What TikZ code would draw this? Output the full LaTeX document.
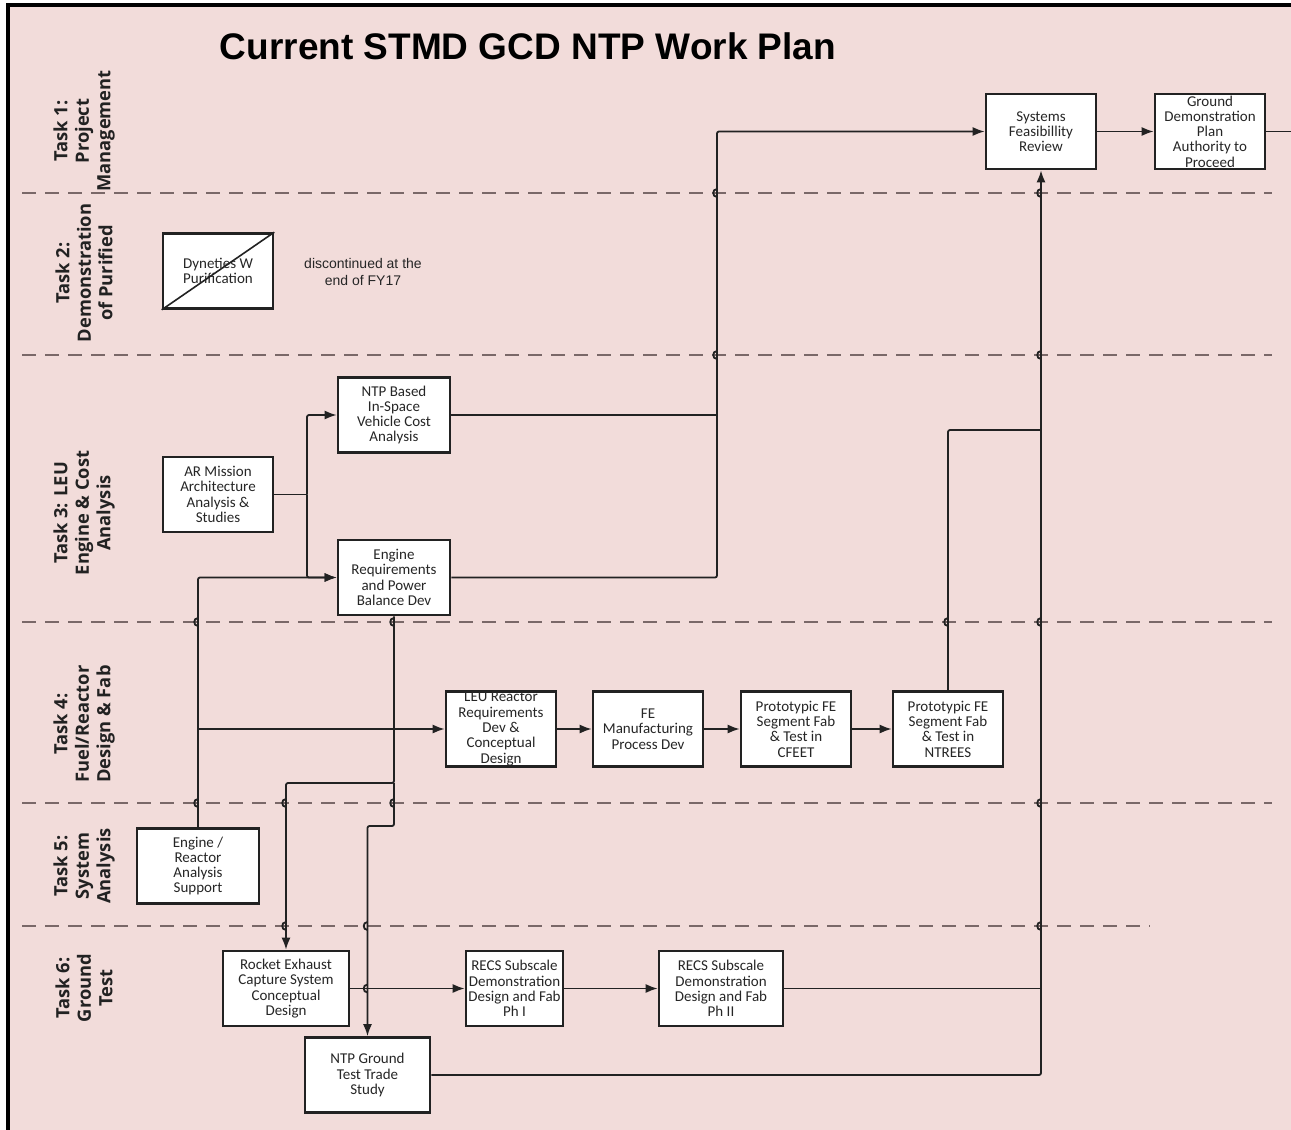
\documentclass[tikz,border=0pt]{standalone}
\usepackage{fontspec}
\setmainfont{Carlito}
\newfontfamily\lanefont{Open Sans}
\newfontfamily\titlefont{Liberation Sans}
\usetikzlibrary{arrows.meta}
\definecolor{bgpink}{HTML}{F2DCDA}
\definecolor{linec}{HTML}{222222}
\definecolor{dashc}{HTML}{7A6868}
\definecolor{txtc}{HTML}{262626}
\newcommand\hopv[2]{\draw[conn] (#1,#2-4) .. controls (#1-5,#2-4) and (#1-5,#2+4) .. (#1,#2+4);}
\begin{document}
\begin{tikzpicture}[x=1pt,y=-1pt,
  box/.style={draw=linec, fill=white, line width=2.6, align=center, inner sep=0pt,
    minimum width=110, minimum height=75, text=txtc, font=\fontsize{15}{15.3}\selectfont},
  lanelbl/.style={rotate=90, align=center, text=linec, font=\lanefont\bfseries\fontsize{18.3}{21.5}\selectfont},
  lanesep/.style={draw=dashc, line width=2, dash pattern=on 14pt off 9pt},
  conn/.style={draw=linec, line width=1.8, rounded corners=2},
  arr/.style={-{Latex[length=12pt,width=9pt]}}]
\useasboundingbox (0,0) rectangle (1291,1130);
\fill[white] (0,0) rectangle (1291,1130);
\fill[bgpink] (7,3) rectangle (1291,1130);
\draw[line width=4, black] (7.5,1130) -- (7.5,4.5) -- (1291,4.5);

% lane separators
\draw[lanesep] (22,193) -- (1272,193);
\draw[lanesep] (22,355) -- (1272,355);
\draw[lanesep] (22,622) -- (1272,622);
\draw[lanesep] (22,803) -- (1272,803);
\draw[lanesep] (22,926) -- (1150,926);

% title
\node[font=\titlefont\bfseries\fontsize{37}{40}\selectfont, text=black] (title) at (528,46) {Current STMD GCD NTP Work Plan};

% lane labels
\node[lanelbl] (L1) at (84,131) {Task 1:\\Project\\Management};
\node[lanelbl] (L2) at (84,273) {Task 2:\\Demonstration\\of Purified};
\node[lanelbl] (L3) at (84,513) {Task 3: LEU\\Engine \& Cost\\Analysis};
\node[lanelbl] (L4) at (84,724) {Task 4:\\Fuel/Reactor\\Design \& Fab};
\node[lanelbl] (L5) at (84,866) {Task 5:\\System\\Analysis};
\node[lanelbl] (L6) at (84,988) {Task 6:\\Ground\\Test};

% boxes
\node[box] (SFR) at (1041,131.5) {Systems\\Feasibillity\\Review};
\node[box] (GDP) at (1210,131.5) {Ground\\Demonstration\\Plan\\Authority to\\Proceed};
\node[box] (DYN) at (218,271) {Dyneties W\\Purification};
\node[box, minimum width=112] (NTPB) at (394,415) {NTP Based\\In-Space\\Vehicle Cost\\Analysis};
\node[box] (AR) at (218,494.5) {AR Mission\\Architecture\\Analysis \&\\Studies};
\node[box, minimum width=112] (ENG) at (394,577.5) {Engine\\Requirements\\and Power\\Balance Dev};
\node[box] (LEU) at (501,729) {LEU Reactor\\Requirements\\Dev \&\\Conceptual\\Design};
\node[box] (FEM) at (648,729) {FE\\Manufacturing\\Process Dev};
\node[box] (CFEET) at (796,729) {Prototypic FE\\Segment Fab\\\& Test in\\CFEET};
\node[box] (NTREES) at (948,729) {Prototypic FE\\Segment Fab\\\& Test in\\NTREES};
\node[box, minimum width=122] (ERA) at (198,866) {Engine /\\Reactor\\Analysis\\Support};
\node[box, minimum width=126] (REC) at (286,988.5) {Rocket Exhaust\\Capture System\\Conceptual\\Design};
\node[box, minimum width=97] (RECS1) at (514.5,988.5) {RECS Subscale\\Demonstration\\Design and Fab\\Ph I};
\node[box, minimum width=124] (RECS2) at (721,988.5) {RECS Subscale\\Demonstration\\Design and Fab\\Ph II};
\node[box, minimum width=125] (NGT) at (367.5,1075) {NTP Ground\\Test Trade\\Study};

\draw[line width=1.6, linec] (DYN.south west) -- (DYN.north east);
\node[font=\titlefont\fontsize{14}{17}\selectfont, align=center, text=txtc] (disc) at (363,272) {discontinued at the\\end of FY17};

% connectors
\coordinate (j1) at (307,494.5);
\draw[conn] (AR.east) -- (j1);
\draw[conn,arr] (j1) |- (NTPB.west);
\draw[conn,arr] (j1) |- (ENG.west);

\coordinate (e2) at (198,729);
\draw[conn,arr] (ERA.north) |- (ENG.west);
\draw[conn,arr] (e2) -- (LEU.west);

\coordinate (d1) at (394,783);
\coordinate (d2) at (394,826);
\draw[conn,arr] (ENG.south) -- (d1) -| (REC.north);
\draw[conn,arr] (d1) -- (d2) -| (NGT.north);

\coordinate (v1) at (717,415);
\draw[conn] (NTPB.east) -- (v1);
\draw[conn,arr] (ENG.east) -- (ENG.east -| v1) -- (v1 |- SFR.west) -- (SFR.west);

\coordinate (edge) at (1291,131.5);
\draw[conn,arr] (SFR) -- (GDP);
\draw[conn] (GDP.east) -- (edge);

\draw[conn,arr] (LEU) -- (FEM);
\draw[conn,arr] (FEM) -- (CFEET);
\draw[conn,arr] (CFEET) -- (NTREES);

\coordinate (n1) at (1041,430);
\draw[conn] (NTREES.north) |- (n1);

\draw[conn,arr] (REC) -- (RECS1);
\draw[conn,arr] (RECS1) -- (RECS2);
\coordinate (r1) at (1041,988.5);
\draw[conn] (RECS2.east) -- (r1);
\draw[conn,arr] (NGT.east) -| (SFR.south);

% line hops
\hopv{198}{622}\hopv{198}{803}
\hopv{394}{622}\hopv{394}{803}
\hopv{286}{803}\hopv{286}{926}
\hopv{367.5}{926}\hopv{367.5}{988.5}
\hopv{717}{193}\hopv{717}{355}
\hopv{948}{622}
\hopv{1041}{193}\hopv{1041}{355}\hopv{1041}{622}\hopv{1041}{803}\hopv{1041}{926}
\end{tikzpicture}
\end{document}
